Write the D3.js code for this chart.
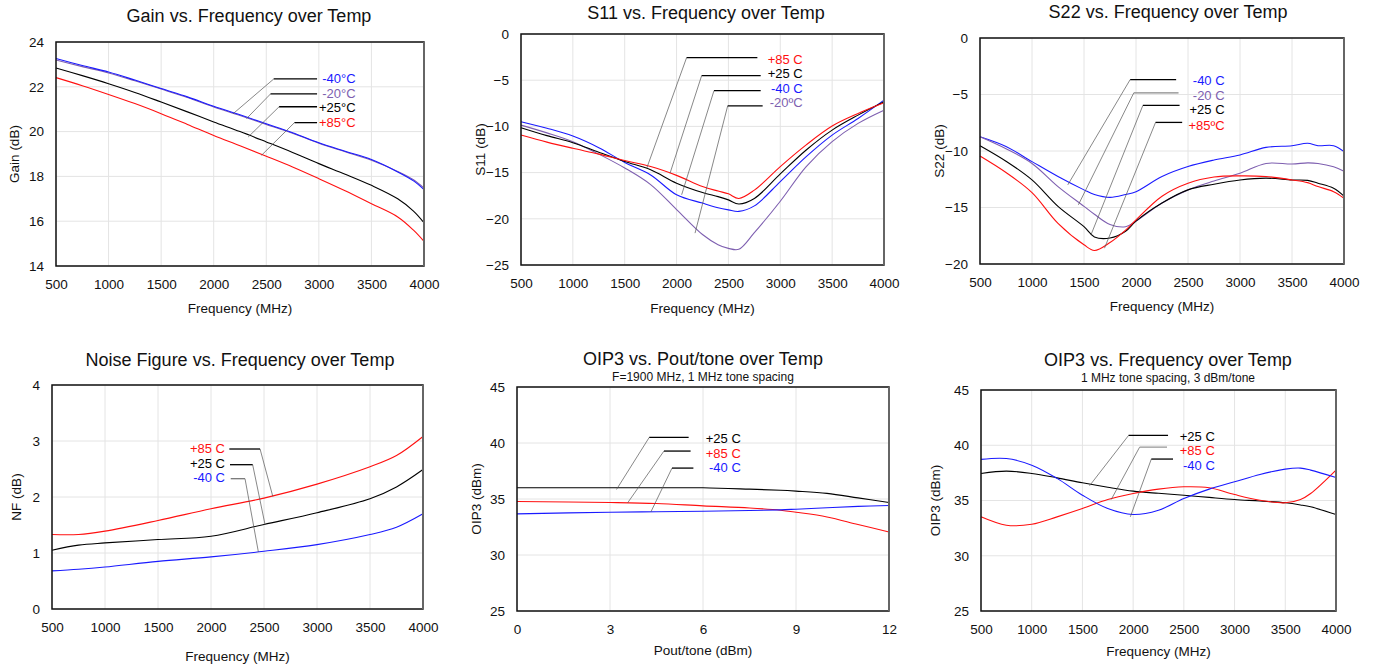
<!DOCTYPE html>
<html>
<head>
<meta charset="utf-8">
<script src="https://cdn.jsdelivr.net/npm/d3@7"></script>
<style>
body { margin: 0; background: #fff; }
svg { font-family: "Liberation Sans", Arial, sans-serif; }
</style>
</head>
<body>
<svg id="chart" width="1373" height="664"></svg>
<script>
// ---- data ----
const gainFreq = [500, 750, 1000, 1250, 1500, 1750, 2000, 2250, 2500, 2750, 3000, 3250, 3500, 3750, 3900, 4000]
const gainM40 = [23.26, 22.95, 22.66, 22.3, 21.92, 21.55, 21.13, 20.75, 20.35, 19.95, 19.5, 19.12, 18.75, 18.2, 17.8, 17.41]
const gainM20 = [23.2, 22.9, 22.62, 22.27, 21.9, 21.52, 21.1, 20.72, 20.32, 19.93, 19.48, 19.1, 18.72, 18.22, 17.85, 17.48]
const gainP25 = [22.84, 22.5, 22.14, 21.75, 21.32, 20.88, 20.43, 20.0, 19.54, 19.07, 18.57, 18.1, 17.6, 17.0, 16.45, 15.93]
const gainP85 = [22.41, 22.05, 21.66, 21.25, 20.8, 20.32, 19.83, 19.37, 18.9, 18.42, 17.9, 17.36, 16.78, 16.19, 15.6, 15.1]

const s11Freq = [500, 750, 1000, 1250, 1500, 1750, 2000, 2250, 2400, 2500, 2600, 2750, 3000, 3250, 3500, 3750, 4000]
const s11P85 = [-10.94, -11.7, -12.37, -13.0, -13.7, -14.35, -15.3, -16.5, -17.0, -17.3, -17.8, -16.9, -14.35, -12.0, -9.96, -8.6, -7.45]
const s11P25 = [-10.14, -11.0, -11.76, -12.8, -13.8, -14.7, -16.15, -17.16, -17.6, -17.95, -18.4, -17.8, -15.14, -12.55, -10.4, -8.78, -7.34]
const s11M40 = [-9.5, -10.2, -11.04, -12.3, -13.9, -15.25, -17.4, -18.3, -18.8, -19.03, -19.2, -18.6, -15.97, -13.27, -10.94, -9.14, -7.16]
const s11M20 = [-9.86, -10.7, -11.65, -13.0, -14.5, -16.3, -19.0, -21.7, -22.8, -23.2, -23.3, -21.5, -18.1, -14.35, -11.65, -9.67, -8.24]

const s22Freq = [500, 750, 1000, 1250, 1500, 1600, 1750, 1900, 2000, 2250, 2500, 2750, 3000, 3250, 3500, 3650, 3750, 3900, 4000]
const s22M40 = [-8.74, -9.6, -10.94, -12.26, -13.44, -13.85, -14.1, -13.85, -13.6, -12.26, -11.38, -10.8, -10.35, -9.68, -9.53, -9.32, -9.53, -9.53, -10.06]
const s22M20 = [-8.74, -9.8, -11.1, -13.15, -14.9, -15.6, -16.5, -16.7, -16.2, -14.6, -13.44, -12.65, -11.97, -11.1, -11.15, -11.05, -11.1, -11.4, -11.8]
const s22P25 = [-9.53, -10.9, -12.56, -14.9, -16.7, -17.6, -17.7, -17.1, -16.2, -14.6, -13.44, -12.94, -12.56, -12.4, -12.56, -12.6, -12.85, -13.3, -14.0]
const s22P85 = [-10.44, -11.9, -13.68, -16.4, -18.3, -18.8, -18.1, -17.0, -16.1, -14.0, -12.85, -12.3, -12.2, -12.26, -12.56, -12.8, -13.15, -13.6, -14.18]

const nfFreq = [500, 750, 1000, 1500, 2000, 2500, 3000, 3500, 3750, 4000]
const nfP85 = [1.33, 1.33, 1.39, 1.58, 1.79, 1.98, 2.23, 2.54, 2.74, 3.08]
const nfP25 = [1.05, 1.14, 1.18, 1.24, 1.3, 1.51, 1.72, 1.97, 2.18, 2.49]
const nfM40 = [0.68, 0.71, 0.75, 0.85, 0.93, 1.03, 1.15, 1.33, 1.46, 1.7]

const pout = [0, 3, 4.5, 6, 7.5, 8.5, 9, 10, 11, 12]
const poutP25 = [36.0, 36.0, 36.0, 36.0, 35.88, 35.78, 35.7, 35.5, 35.1, 34.69]
const poutP85 = [34.78, 34.69, 34.6, 34.39, 34.2, 34.0, 33.82, 33.4, 32.72, 32.06]
const poutM40 = [33.67, 33.82, 33.86, 33.91, 33.97, 34.03, 34.09, 34.22, 34.34, 34.42]

const oipFreq = [500, 750, 1000, 1250, 1500, 1750, 2000, 2250, 2500, 2750, 3000, 3250, 3500, 3650, 3750, 4000]
const oipM40 = [38.72, 38.8, 38.2, 37.0, 35.48, 34.27, 33.73, 34.12, 35.18, 36.03, 36.69, 37.36, 37.84, 37.93, 37.75, 37.08]
const oipP25 = [37.45, 37.66, 37.45, 37.05, 36.6, 36.2, 35.85, 35.65, 35.48, 35.28, 35.09, 34.95, 34.79, 34.6, 34.43, 33.73]
const oipP85 = [33.52, 32.76, 32.85, 33.52, 34.27, 35.09, 35.63, 36.03, 36.24, 36.15, 35.54, 35.03, 34.79, 35.09, 35.63, 37.75]

const freqTicks = [500, 1000, 1500, 2000, 2500, 3000, 3500, 4000]

const red = '#ff1010'
const blue = '#1a1aff'
const purple = '#7e5fb0'
const black = '#000'

const svg = d3.select('#chart')

function panel(cfg) {
	const [x0, x1, y0, y1] = cfg.box
	const xScale = d3.scaleLinear().domain(cfg.xDomain).range([x0, x1])
	const yScale = d3.scaleLinear().domain(cfg.yDomain).range([y1, y0])
	const g = svg.append('g')

	// grid
	g.selectAll('.vg')
		.data(cfg.xTicks)
		.join('line')
		.attr('x1', d => xScale(d))
		.attr('x2', d => xScale(d))
		.attr('y1', y0)
		.attr('y2', y1)
		.attr('stroke', '#e4e4e4')
	g.selectAll('.hg')
		.data(cfg.yTicks)
		.join('line')
		.attr('y1', d => yScale(d))
		.attr('y2', d => yScale(d))
		.attr('x1', x0)
		.attr('x2', x1)
		.attr('stroke', '#e4e4e4')

	// axes (labels only)
	const xAxis = d3.axisBottom(xScale).tickValues(cfg.xTicks).tickSize(0).tickPadding(13).tickFormat(d3.format('d'))
	const yAxis = d3.axisLeft(yScale).tickValues(cfg.yTicks).tickSize(0).tickPadding(12).tickFormat(d3.format('d'))
	g.append('g')
		.attr('transform', `translate(0,${y1})`)
		.call(xAxis)
		.call(a => a.select('.domain').remove())
		.selectAll('text')
		.attr('font-size', 13.5)
		.attr('fill', '#111')
	g.append('g')
		.attr('transform', `translate(${x0},0)`)
		.call(yAxis)
		.call(a => a.select('.domain').remove())
		.selectAll('text')
		.attr('font-size', 13.5)
		.attr('fill', '#111')

	// series
	const line = d3
		.line()
		.x(d => xScale(d[0]))
		.y(d => yScale(d[1]))
		.curve(d3.curveCatmullRom.alpha(0.5))
	g.selectAll('.series')
		.data(cfg.series)
		.join('path')
		.attr('fill', 'none')
		.attr('stroke', d => d.color)
		.attr('stroke-width', 1.1)
		.attr('d', d => line(d.x.map((v, i) => [v, d.y[i]])))

	// frame
	g.append('rect')
		.attr('x', x0)
		.attr('y', y0)
		.attr('width', x1 - x0)
		.attr('height', y1 - y0)
		.attr('fill', 'none')
		.attr('stroke', '#111')
		.attr('stroke-width', 1.5)
	g.append('line')
		.attr('x1', x1)
		.attr('x2', x1)
		.attr('y1', y0)
		.attr('y2', y1)
		.attr('stroke', '#666')
		.attr('stroke-width', 2)

	// leader lines and labels
	cfg.notes.forEach(n => {
		g.append('line')
			.attr('x1', xScale(n.hx0))
			.attr('x2', xScale(n.tx))
			.attr('y1', yScale(n.hy))
			.attr('y2', yScale(n.ty))
			.attr('stroke', '#555')
			.attr('stroke-width', 0.7)
		g.append('line')
			.attr('x1', xScale(n.hx0))
			.attr('x2', xScale(n.hx1))
			.attr('y1', yScale(n.hy))
			.attr('y2', yScale(n.hy))
			.attr('stroke', n.lineColor || '#000')
			.attr('stroke-width', 1.3)
		g.append('text')
			.attr('x', xScale(n.lx))
			.attr('y', yScale(n.ly))
			.attr('dy', '0.35em')
			.attr('text-anchor', 'end')
			.attr('font-size', 13)
			.attr('fill', n.color)
			.text(n.text)
	})

	// titles
	g.append('text')
		.attr('x', cfg.titleX)
		.attr('y', cfg.titleY)
		.attr('text-anchor', 'middle')
		.attr('font-size', 18)
		.attr('fill', '#111')
		.text(cfg.title)
	if (cfg.sub) {
		g.append('text')
			.attr('x', cfg.titleX)
			.attr('y', cfg.titleY + 16)
			.attr('text-anchor', 'middle')
			.attr('font-size', 12)
			.attr('fill', '#111')
			.text(cfg.sub)
	}
	g.append('text')
		.attr('x', (x0 + x1) / 2)
		.attr('y', cfg.xLabelY)
		.attr('text-anchor', 'middle')
		.attr('font-size', 13.5)
		.attr('fill', '#111')
		.text(cfg.xLabel)
	g.append('text')
		.attr('transform', `translate(${cfg.yLabelX},${(y0 + y1) / 2}) rotate(-90)`)
		.attr('dy', '0.35em')
		.attr('text-anchor', 'middle')
		.attr('font-size', 13.5)
		.attr('fill', '#111')
		.text(cfg.yLabel)
}

panel({
	box: [56, 424, 42, 266],
	title: 'Gain vs. Frequency over Temp',
	titleX: 249,
	titleY: 22,
	xDomain: [500, 4000],
	xTicks: freqTicks,
	yDomain: [14, 24],
	yTicks: [14, 16, 18, 20, 22, 24],
	xLabel: 'Frequency (MHz)',
	xLabelY: 313,
	yLabel: 'Gain (dB)',
	yLabelX: 14,
	series: [
		{ x: gainFreq, y: gainM20, color: purple },
		{ x: gainFreq, y: gainM40, color: blue },
		{ x: gainFreq, y: gainP25, color: black },
		{ x: gainFreq, y: gainP85, color: red }
	],
	notes: [
		{ text: '-40°C', color: blue, lx: 3350, ly: 22.39, hx0: 2571, hx1: 2983, hy: 22.35, tx: 2185, ty: 20.8 },
		{ text: '-20°C', color: purple, lx: 3350, ly: 21.72, hx0: 2540, hx1: 2983, hy: 21.68, tx: 2312, ty: 20.58 },
		{ text: '+25°C', color: black, lx: 3350, ly: 21.1, hx0: 2622, hx1: 2983, hy: 21.11, tx: 2328, ty: 19.76 },
		{ text: '+85°C', color: red, lx: 3350, ly: 20.41, hx0: 2768, hx1: 2983, hy: 20.4, tx: 2454, ty: 18.94 }
	]
})

panel({
	box: [521, 884, 34, 265],
	title: 'S11 vs. Frequency over Temp',
	titleX: 706,
	titleY: 19,
	xDomain: [500, 4000],
	xTicks: freqTicks,
	yDomain: [-25, 0],
	yTicks: [-25, -20, -15, -10, -5, 0],
	xLabel: 'Frequency (MHz)',
	xLabelY: 313,
	yLabel: 'S11 (dB)',
	yLabelX: 480,
	series: [
		{ x: s11Freq, y: s11M20, color: purple },
		{ x: s11Freq, y: s11M40, color: blue },
		{ x: s11Freq, y: s11P25, color: black },
		{ x: s11Freq, y: s11P85, color: red }
	],
	notes: [
		{ text: '+85 C', color: red, lx: 3216, ly: -2.73, hx0: 2097, hx1: 2779, hy: -2.55, tx: 1712, ty: -14.53 },
		{ text: '+25 C', color: black, lx: 3216, ly: -4.32, hx0: 2242, hx1: 2811, hy: -4.5, tx: 1937, ty: -15.07 },
		{ text: '-40 C', color: blue, lx: 3216, ly: -5.9, hx0: 2361, hx1: 2811, hy: -6.12, tx: 2049, ty: -17.4 },
		{ text: '-20ºC', color: purple, lx: 3216, ly: -7.45, hx0: 2493, hx1: 2830, hy: -7.77, tx: 2178, ty: -21.55 }
	]
})

panel({
	box: [980, 1344, 38, 264],
	title: 'S22 vs. Frequency over Temp',
	titleX: 1168,
	titleY: 18,
	xDomain: [500, 4000],
	xTicks: freqTicks,
	yDomain: [-20, 0],
	yTicks: [-20, -15, -10, -5, 0],
	xLabel: 'Frequency (MHz)',
	xLabelY: 311,
	yLabel: 'S22 (dB)',
	yLabelX: 939,
	series: [
		{ x: s22Freq, y: s22M40, color: blue },
		{ x: s22Freq, y: s22M20, color: purple },
		{ x: s22Freq, y: s22P25, color: black },
		{ x: s22Freq, y: s22P85, color: red }
	],
	notes: [
		{ text: '-40 C', color: blue, lx: 2852, ly: -3.79, hx0: 1944, hx1: 2386, hy: -3.68, tx: 1344, ty: -13.0 },
		{ text: '-20 C', color: purple, lx: 2852, ly: -5.09, hx0: 1979, hx1: 2409, hy: -4.85, tx: 1446, ty: -14.76, lineColor: '#888' },
		{ text: '+25 C', color: black, lx: 2852, ly: -6.32, hx0: 2066, hx1: 2419, hy: -5.97, tx: 1568, ty: -17.4 },
		{ text: '+85ºC', color: red, lx: 2852, ly: -7.7, hx0: 2188, hx1: 2444, hy: -7.47, tx: 1697, ty: -18.6 }
	]
})

panel({
	box: [52, 423, 385, 609],
	title: 'Noise Figure vs. Frequency over Temp',
	titleX: 240,
	titleY: 366,
	xDomain: [500, 4000],
	xTicks: freqTicks,
	yDomain: [0, 4],
	yTicks: [0, 1, 2, 3, 4],
	xLabel: 'Frequency (MHz)',
	xLabelY: 661,
	yLabel: 'NF (dB)',
	yLabelX: 16,
	series: [
		{ x: nfFreq, y: nfM40, color: blue },
		{ x: nfFreq, y: nfP25, color: black },
		{ x: nfFreq, y: nfP85, color: red }
	],
	notes: [
		{ text: '+85 C', color: red, lx: 2132, ly: 2.875, hx0: 2463, hx1: 2173, hy: 2.857, tx: 2583, ty: 2.01 },
		{ text: '+25 C', color: black, lx: 2132, ly: 2.607, hx0: 2393, hx1: 2179, hy: 2.577, tx: 2510, ty: 1.506 },
		{ text: '-40 C', color: blue, lx: 2132, ly: 2.357, hx0: 2321, hx1: 2186, hy: 2.327, tx: 2447, ty: 1.018, lineColor: '#777' }
	]
})

panel({
	box: [517, 889, 387, 611],
	title: 'OIP3 vs. Pout/tone over Temp',
	sub: 'F=1900 MHz, 1 MHz tone spacing',
	titleX: 703,
	titleY: 365,
	xDomain: [0, 12],
	xTicks: [0, 3, 6, 9, 12],
	yDomain: [25, 45],
	yTicks: [25, 30, 35, 40, 45],
	xLabel: 'Pout/tone (dBm)',
	xLabelY: 655,
	yLabel: 'OIP3 (dBm)',
	yLabelX: 476,
	series: [
		{ x: pout, y: poutP25, color: black },
		{ x: pout, y: poutP85, color: red },
		{ x: pout, y: poutM40, color: blue }
	],
	notes: [
		{ text: '+25 C', color: black, lx: 7.22, ly: 40.38, hx0: 4.266, hx1: 5.537, hy: 40.5, tx: 3.21, ty: 35.85 },
		{ text: '+85 C', color: red, lx: 7.22, ly: 39.04, hx0: 4.74, hx1: 5.6, hy: 39.28, tx: 3.57, ty: 34.66 },
		{ text: '-40 C', color: blue, lx: 7.22, ly: 37.79, hx0: 5.0, hx1: 5.69, hy: 37.76, tx: 4.32, ty: 33.85 }
	]
})

panel({
	box: [981, 1336, 390, 611],
	title: 'OIP3 vs. Frequency over Temp',
	sub: '1 MHz tone spacing, 3 dBm/tone',
	titleX: 1168,
	titleY: 366,
	xDomain: [500, 4000],
	xTicks: freqTicks,
	yDomain: [25, 45],
	yTicks: [25, 30, 35, 40, 45],
	xLabel: 'Frequency (MHz)',
	xLabelY: 656,
	yLabel: 'OIP3 (dBm)',
	yLabelX: 935,
	series: [
		{ x: oipFreq, y: oipP25, color: black },
		{ x: oipFreq, y: oipP85, color: red },
		{ x: oipFreq, y: oipM40, color: blue }
	],
	notes: [
		{ text: '+25 C', color: black, lx: 2805, ly: 40.77, hx0: 1955, hx1: 2344, hy: 40.89, tx: 1570, ty: 36.33 },
		{ text: '+85 C', color: red, lx: 2805, ly: 39.5, hx0: 2064, hx1: 2334, hy: 39.83, tx: 1784, ty: 35.09, lineColor: '#999' },
		{ text: '-40 C', color: blue, lx: 2805, ly: 38.14, hx0: 2179, hx1: 2393, hy: 38.75, tx: 1972, ty: 33.52 }
	]
})
</script>
</body>
</html>
